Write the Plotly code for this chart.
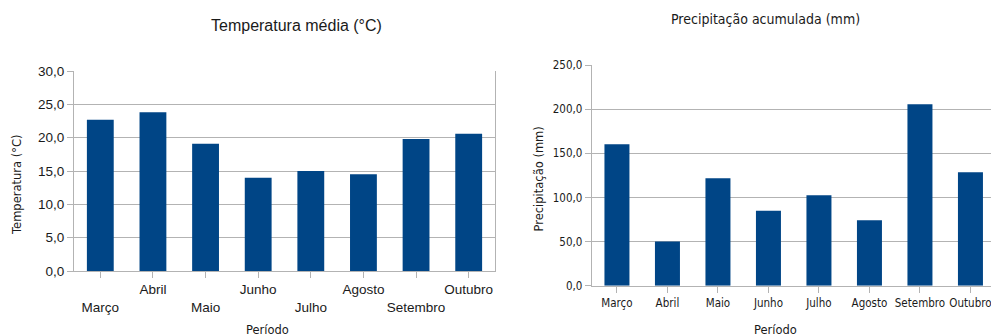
import plotly.graph_objects as go

# Monthly climate summary
meses = ["Março", "Abril", "Maio", "Junho", "Julho", "Agosto", "Setembro", "Outubro"]
temperatura = [22.7, 23.8, 19.1, 14.0, 15.0, 14.5, 19.8, 20.6]
precipitacao = [160.5, 50.0, 121.8, 85.0, 102.5, 74.2, 205.7, 128.6]

temp_ticks = [0, 5, 10, 15, 20, 25, 30]
prec_ticks = [0, 50, 100, 150, 200, 250]

BAR = "#004586"
GRID = "#b3b3b3"
TXT = "#1a1a1a"
FONT = "Liberation Sans"
NARROW = "'Liberation Sans Narrow', 'DejaVu Sans Condensed', 'Roboto Condensed', Roboto, sans-serif"

# staggered labels for the temperature chart (every other one pushed a line down)
stagger = [("<br>" + m) if i % 2 == 0 else m for i, m in enumerate(meses)]

fig = go.Figure()
fig.add_trace(go.Bar(x=list(range(len(meses))), y=temperatura, width=0.51,
                     marker=dict(color=BAR, line=dict(width=0)),
                     xaxis="x", yaxis="y", showlegend=False))
fig.add_trace(go.Bar(x=list(range(len(meses))), y=precipitacao, width=0.495,
                     marker=dict(color=BAR, line=dict(width=0)),
                     xaxis="x2", yaxis="y2", showlegend=False))

common_x = dict(
    showline=True, linecolor=GRID, linewidth=1,
    ticks="outside", ticklen=6, tickcolor=GRID, tickwidth=1,
    tickson="boundaries", showgrid=False, zeroline=False, fixedrange=True,
    tickangle=0, ticklabeloverflow="allow", automargin=False,
)
common_y = dict(
    showline=True, linecolor=GRID, linewidth=1,
    ticks="outside", ticklen=6, tickcolor=GRID, tickwidth=1,
    showgrid=True, gridcolor=GRID, gridwidth=1, zeroline=False,
    tickformat=".1f", automargin=False,
)

fig.update_layout(
    width=991, height=336,
    margin=dict(l=0, r=0, t=0, b=0, autoexpand=False),
    paper_bgcolor="white", plot_bgcolor="white",
    separators=",.",
    xaxis=dict(**common_x, domain=[74 / 991, 495 / 991], anchor="y",
               range=[-0.5, 7.5], tickmode="array",
               tickvals=list(range(len(meses))), ticktext=stagger,
               tickfont=dict(family=FONT, size=13.5, color=TXT)),
    yaxis=dict(**common_y, domain=[1 - 271 / 336, 1 - 71 / 336], anchor="x",
               range=[0, 30], tickvals=temp_ticks, mirror=True,
               tickfont=dict(family=FONT, size=13.5, color=TXT)),
    xaxis2=dict(**common_x, domain=[591.7 / 991, 1.0], anchor="y2",
                range=[-0.5, 7.407], tickmode="array",
                tickvals=list(range(len(meses))), ticktext=meses,
                tickfont=dict(family=NARROW, size=11.5, color=TXT)),
    yaxis2=dict(**common_y, domain=[1 - 285.7 / 336, 1 - 65.3 / 336], anchor="x2",
                range=[0, 250], tickvals=prec_ticks,
                tickfont=dict(family=NARROW, size=11.5, color=TXT)),
)

def note(text, x, y, size, family, angle=0):
    fig.add_annotation(text=text, x=x / 991, y=1 - y / 336, xref="paper", yref="paper",
                       xanchor="center", yanchor="middle", showarrow=False,
                       textangle=angle, font=dict(family=family, size=size, color=TXT))

note("Temperatura média (°C)", 296, 26, 16, FONT)
note("Precipitação acumulada (mm)", 765, 19, 14, NARROW)
note("Temperatura (°C)", 17, 185, 11.5, "DejaVu Sans", -90)
note("Precipitação (mm)", 538.5, 179, 11.5, "DejaVu Sans", -90)
note("Período", 267, 330, 11.5, "DejaVu Sans")
note("Período", 775.5, 330, 11.5, "DejaVu Sans")

fig.write_html("out.html")
